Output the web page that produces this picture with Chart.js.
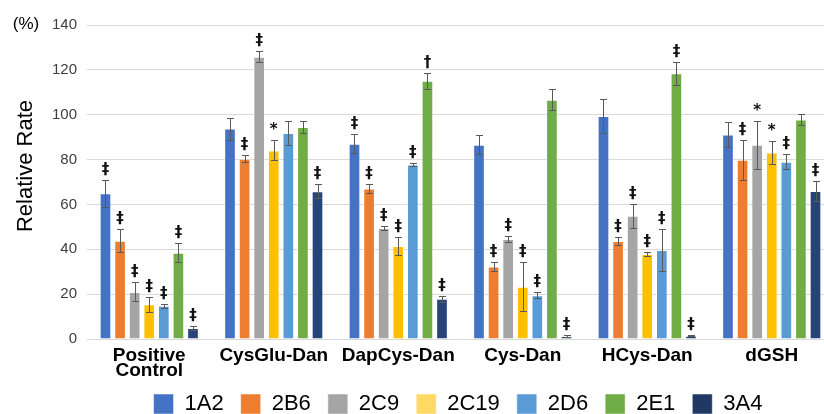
<!DOCTYPE html>
<html><head><meta charset="utf-8">
<script src="https://cdn.jsdelivr.net/npm/chart.js@4.4.1/dist/chart.umd.min.js"></script>
<style>html,body{margin:0;padding:0;background:#fff;overflow:hidden;} #wrap{width:916px;height:430px;}</style>
</head><body><div id="wrap"><canvas id="c" width="916" height="430"></canvas></div>
<script>
const categories = [['Positive','Control'], 'CysGlu-Dan', 'DapCys-Dan', 'Cys-Dan', 'HCys-Dan', 'dGSH'];
const seriesNames = ['1A2', '2B6', '2C9', '2C19', '2D6', '2E1', '3A4'];
const seriesColors = ['#4472C4', '#ED7D31', '#A5A5A5', '#FFC000', '#5B9BD5', '#70AD47', '#264478'];
const legendColors = ['#4472C4', '#ED7D31', '#A5A5A5', '#FFD966', '#5B9BD5', '#70AD47', '#203864'];

const v1A2  = [65.0, 93.8, 87.1, 86.6, 99.4, 91.2];
const v2B6  = [43.8, 80.4, 67.1, 32.3, 43.7, 79.9];
const v2C9  = [21.0, 125.8, 49.5, 44.6, 54.9, 86.6];
const v2C19 = [15.5, 84.1, 41.5, 23.3, 37.9, 83.2];
const v2D6  = [14.8, 91.8, 77.8, 19.5, 39.7, 79.0];
const v2E1  = [38.5, 94.5, 115.1, 106.7, 118.5, 97.9];
const v3A4  = [4.9, 65.9, 18.0, 1.3, 1.5, 66.0];

const e1A2  = [6.0, 4.9, 4.3, 4.2, 7.7, 5.7];
const e2B6  = [5.2, 1.5, 2.1, 2.1, 1.8, 9.0];
const e2C9  = [4.2, 2.4, 1.0, 1.5, 5.5, 10.8];
const e2C19 = [3.3, 4.5, 4.1, 11.0, 1.0, 5.2];
const e2D6  = [1.0, 5.5, 0.7, 1.4, 9.2, 3.3];
const e2E1  = [4.2, 2.7, 3.6, 4.6, 5.2, 2.3];
const e3A4  = [0.9, 3.0, 1.3, 0.3, 0.3, 4.5];

const m1A2  = ['‡', '', '‡', '', '', ''];
const m2B6  = ['‡', '‡', '‡', '‡', '‡', '‡'];
const m2C9  = ['‡', '‡', '‡', '‡', '‡', '*'];
const m2C19 = ['‡', '*', '‡', '‡', '‡', '*'];
const m2D6  = ['‡', '', '‡', '‡', '‡', '‡'];
const m2E1  = ['‡', '', '†', '', '‡', ''];
const m3A4  = ['‡', '‡', '‡', '‡', '‡', '‡'];

const yTicks = [0, 20, 40, 60, 80, 100, 120, 140];
const yTitle = 'Relative Rate';
const unitLabel = '(%)';

const allValues = [v1A2, v2B6, v2C9, v2C19, v2D6, v2E1, v3A4];
const allErrors = [e1A2, e2B6, e2C9, e2C19, e2D6, e2E1, e3A4];
const allMarks = [m1A2, m2B6, m2C9, m2C19, m2D6, m2E1, m3A4];

const datasets = seriesNames.map((name, i) => ({
  label: name,
  data: allValues[i],
  errors: allErrors[i],
  marks: allMarks[i],
  backgroundColor: seriesColors[i],
  borderColor: 'rgba(255,255,255,0.45)',
  borderWidth: 1,
  categoryPercentage: 0.82,
  barPercentage: 0.8,
  yAxisID: 'y'
}));

const errorBarPlugin = {
  id: 'errbars',
  afterDatasetsDraw(chart) {
    const ctx = chart.ctx; const ys = chart.scales.y;
    chart.data.datasets.forEach((ds, i) => {
      const meta = chart.getDatasetMeta(i);
      meta.data.forEach((bar, j) => {
        const v = ds.data[j], e = ds.errors[j];
        const x = Math.round(bar.x) + 0.5;
        const yt = Math.round(ys.getPixelForValue(v + e)) + 0.5;
        const yb = Math.round(ys.getPixelForValue(v - e)) + 0.5;
        ctx.save();
        ctx.strokeStyle = '#595959'; ctx.lineWidth = 1;
        ctx.beginPath();
        ctx.moveTo(x, yt); ctx.lineTo(x, yb);
        ctx.moveTo(x - 3.5, yt); ctx.lineTo(x + 3.5, yt);
        ctx.moveTo(x - 3.5, yb); ctx.lineTo(x + 3.5, yb);
        ctx.stroke();
        const mk = ds.marks[j];
        if (mk) {
          ctx.fillStyle = '#111';
          ctx.font = 'bold 15px "DejaVu Sans", sans-serif';
          ctx.textAlign = 'center'; ctx.textBaseline = 'middle';
          ctx.fillText(mk, bar.x, yt - 10);
        }
        ctx.restore();
      });
    });
  }
};

const textPlugin = {
  id: 'texts',
  afterDraw(chart) {
    const ctx = chart.ctx;
    ctx.save();
    ctx.fillStyle = '#000';
    ctx.textAlign = 'center'; ctx.textBaseline = 'middle';
    ctx.font = '17px "Liberation Sans", Arial, sans-serif';
    ctx.fillText(unitLabel, 26, 24);
    ctx.translate(26, 166);
    ctx.rotate(-Math.PI / 2);
    ctx.font = '22px "Liberation Sans", Arial, sans-serif';
    ctx.fillText(yTitle, 0, 0);
    ctx.restore();
  }
};

const legendShift = {
  id: 'legendShift',
  afterLayout(chart) {
    if (chart.legend) { chart.legend.top -= 5; chart.legend.bottom -= 5; }
  }
};

new Chart(document.getElementById('c'), {
  type: 'bar',
  data: { labels: categories, datasets: datasets },
  options: {
    responsive: false,
    animation: false,
    devicePixelRatio: 1,
    layout: { padding: { top: 25, left: 0, right: 0, bottom: 0 } },
    plugins: {
      tooltip: { enabled: false },
      legend: {
        position: 'bottom',
        labels: {
          boxWidth: 20, boxHeight: 20, padding: 17,
          color: '#000',
          font: { family: '"Liberation Sans", Arial, sans-serif', size: 22 },
          generateLabels(chart) {
            return chart.data.datasets.map((ds, i) => ({
              text: ds.label, fillStyle: legendColors[i], strokeStyle: 'rgba(255,255,255,0.5)',
              lineWidth: 1, hidden: false, datasetIndex: i, fontColor: '#000'
            }));
          }
        }
      }
    },
    scales: {
      x: {
        grid: { display: false, drawTicks: false },
        border: { display: false },
        ticks: {
          color: '#000', padding: 10, maxRotation: 0, autoSkip: false,
          font: { family: '"Liberation Sans", Arial, sans-serif', size: 19, weight: 'bold', lineHeight: 0.763 }
        },
        afterFit(s) { s.height = 42; }
      },
      y: {
        position: 'left',
        min: 0, max: 140,
        afterBuildTicks(s) { s.ticks = yTicks.map(v => ({ value: v })); },
        grid: { color: '#D9D9D9', lineWidth: 1, drawTicks: false },
        border: { display: false },
        ticks: { color: '#404040', padding: 10, font: { family: '"Liberation Sans", Arial, sans-serif', size: 15 } },
        afterFit(s) { s.width = 87; }
      },
      yR: {
        position: 'right',
        display: true,
        grid: { display: false },
        border: { display: false },
        ticks: { display: false },
        afterFit(s) { s.width = 82; }
      }
    }
  },
  plugins: [errorBarPlugin, textPlugin, legendShift]
});
</script>
</body></html>
